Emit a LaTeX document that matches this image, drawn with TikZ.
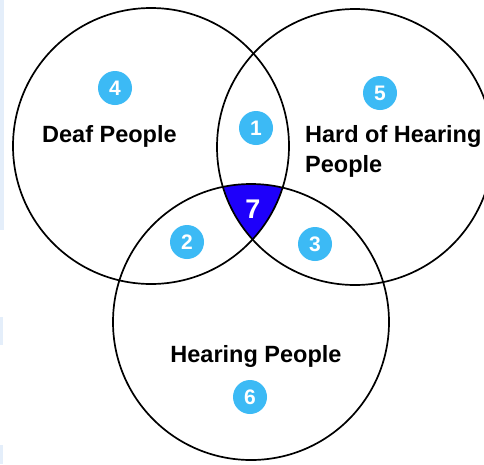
\documentclass[tikz,border=0pt]{standalone}
\usepackage{fontspec}
\setmainfont{Liberation Sans}
\definecolor{badgeblue}{RGB}{60,186,245}
\definecolor{centerblue}{RGB}{30,0,250}
\definecolor{paleblue}{RGB}{228,238,250}
\begin{document}
\begin{tikzpicture}[x=1pt,y=-1pt,
  ring/.style={draw=black, line width=1.7pt},
  badge/.style={circle, fill=badgeblue, text=white, minimum size=34pt, inner sep=0pt, font=\bfseries\fontsize{21}{21}\selectfont},
  lbl/.style={font=\bfseries\fontsize{23.5}{30}\selectfont, text=black, inner sep=0pt}]
\useasboundingbox (0,0) rectangle (484,464);
\clip (0,0) rectangle (484,464);
\fill[white] (0,0) rectangle (484,464);
% pale strips at left edge
\fill[paleblue] (0,0) rectangle (4,230);
\fill[paleblue] (0,317) rectangle (3,345);
\fill[paleblue] (0,445) rectangle (3,464);
% circle centres
\coordinate (c1) at (151,146);
\coordinate (c2) at (355,147);
\coordinate (c3) at (251,322);
% central region
\begin{scope}
  \clip (c1) circle (138);
  \clip (c2) circle (138);
  \fill[centerblue] (c3) circle (138);
\end{scope}
\draw[ring] (c1) circle (138);
\draw[ring] (c2) circle (138);
\draw[ring] (c3) circle (138);
% badges
\node[badge] (b1) at (256,128) {1};
\node[badge] (b2) at (187,242) {2};
\node[badge] (b3) at (315,244) {3};
\node[badge] (b4) at (115,88) {4};
\node[badge] (b5) at (380,93) {5};
\node[badge] (b6) at (250,397) {6};
\node[text=white, font=\bfseries\fontsize{27}{27}\selectfont, inner sep=0pt] (b7) at (253,209) {7};
% labels
\node[lbl, anchor=base west] (deaf) at (42,142) {Deaf People};
\node[lbl, anchor=base west] (hoh1) at (305,142) {Hard of Hearing};
\node[lbl, anchor=base west] (hoh2) at (305,172) {People};
\node[lbl, anchor=base] (hear) at (256,362) {Hearing People};
\end{tikzpicture}
\end{document}
